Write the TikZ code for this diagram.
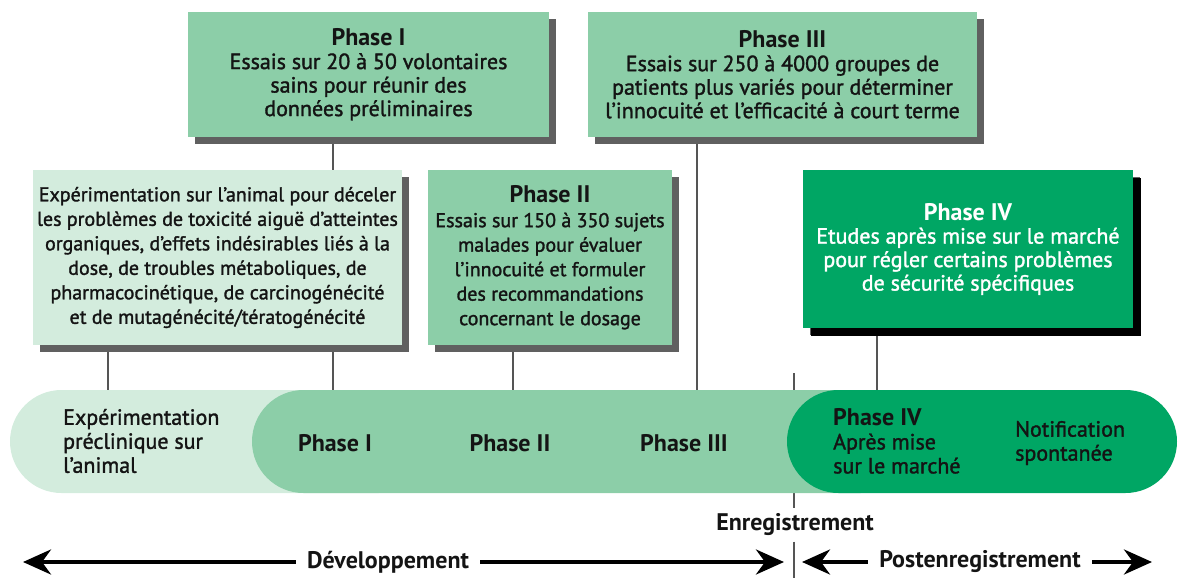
\documentclass[tikz,border=0pt]{standalone}
\usepackage{fontspec}
\setmainfont{PT Sans}
\newfontfamily\semi{PT Sans}[FakeBold=1.5]
\usetikzlibrary{arrows.meta,shadows,backgrounds}
\definecolor{pale}{RGB}{211,236,221}
\definecolor{mid}{RGB}{140,206,168}
\definecolor{deep}{RGB}{0,166,100}
\definecolor{shade}{RGB}{96,96,96}
\definecolor{ink}{RGB}{20,20,20}
\definecolor{wirecol}{RGB}{85,85,85}
\newcommand\hd[1]{{\normalfont\bfseries\fontsize{24}{24}\selectfont #1}}
\tikzset{
  box/.style={fill=#1, inner sep=0pt, align=center, text=ink,
    drop shadow={shadow xshift=7pt, shadow yshift=-7pt, fill=shade, opacity=1}},
  bodybig/.style={font=\semi\fontsize{22}{23.5}\selectfont},
  bodysmall/.style={font=\semi\fontsize{20}{24.5}\selectfont},
  pill/.style={fill=#1, rounded corners=51.5pt, minimum height=103pt, inner sep=0pt},
  wire/.style={draw=wirecol, line width=2pt},
  span/.style={line width=4pt, shorten <=8pt, -{Stealth[length=28pt,width=25pt,inset=9pt]}},
  lab/.style={font=\bfseries\fontsize{24}{24}\selectfont, text=ink},
  txt/.style={font=\semi\fontsize{22}{24}\selectfont, text=ink, inner sep=0pt, anchor=west, align=left}
}
\begin{document}
\begin{tikzpicture}[x=1pt,y=-1pt]
\useasboundingbox (0,0) rectangle (1179,578);
%\draw[step=50,gray,very thin] (0,0) grid (1179,578);
% the time bar
\node[pill=pale, minimum width=420pt] (barpre) at (220,441.5) {};
\node[pill=mid, minimum width=660pt] (barclin) at (582,441.5) {};
\node[pill=deep, minimum width=390pt] (barpost) at (982,441.5) {};
\node[txt] (pretxt) at (63,441) {Expérimentation\\préclinique sur\\l’animal};
\node[lab] (p1) at (335,443) {Phase I};
\node[lab] (p2) at (510,443) {Phase II};
\node[lab] (p3) at (684,443) {Phase III};
\node[txt] (p4) at (833,441) {\hd{Phase IV}\\Après mise\\sur le marché};
\node[txt] (notif) at (1015,443) {Notification\\spontanée};
% the boxes
\node[box=mid, bodybig, minimum width=361pt, minimum height=125pt] (ph1) at (368.5,74.5)
  {\hd{Phase I}\\Essais sur 20 à 50 volontaires\\sains pour réunir des\\données préliminaires};
\node[box=mid, bodybig, minimum width=389pt, minimum height=125pt] (ph3) at (782.5,74.5)
  {\hd{Phase III}\\Essais sur 250 à 4000 groupes de\\patients plus variés pour déterminer\\l’innocuité et l’efficacité à court terme};
\node[box=pale, bodysmall, minimum width=369pt, minimum height=175pt] (prec) at (217.5,257.5)
  {Expérimentation sur l’animal pour déceler\\les problèmes de toxicité aiguë d’atteintes\\organiques, d’effets indésirables liés à la\\dose, de troubles métaboliques, de\\pharmacocinétique, de carcinogénécité\\et de mutagénécité/tératogénécité};
\node[box=mid, bodysmall, minimum width=244pt, minimum height=175pt] (ph2) at (550,257.5)
  {\hd{Phase II}\\Essais sur 150 à 350 sujets\\malades pour évaluer\\l’innocuité et formuler\\des recommandations\\concernant le dosage};
\node[box=deep, bodybig, minimum width=330pt, minimum height=158pt, text=white,
  drop shadow={shadow xshift=8pt, shadow yshift=-8pt, fill=black, opacity=1}] (ph4) at (968,249)
  {\hd{Phase IV}\\Etudes après mise sur le marché\\pour régler certains problèmes\\de sécurité spécifiques};
% links to the bar
\coordinate (k0) at ([xshift=75pt]prec.south west);
\coordinate (k1) at ([xshift=145pt]ph1.south west);
\coordinate (k2) at ([xshift=85pt]ph2.south west);
\coordinate (k3) at ([xshift=109pt]ph3.south west);
\coordinate (k4) at ([xshift=74pt]ph4.south west);
\coordinate (regtop) at (794,373);
\coordinate (regbot) at (794,578);
\node[lab] (enr) at (795,525) {Enregistrement};
\begin{scope}[on background layer]
\draw[wire] (k0) -- (k0 |- barpre.north);
\draw[wire] (k1) -- (k1 |- barpre.north);
\draw[wire] (k2) -- (k2 |- barclin.north);
\draw[wire] (k3) -- (k3 |- barclin.north);
\draw[wire] (k4) -- (k4 |- barpost.north);
\draw[wire] (regtop) -- ([yshift=2pt]regtop |- enr.north);
\end{scope}
\draw[wire] ([yshift=-2pt]regbot |- enr.south) -- (regbot);
% the spans
\node[lab] (dev) at (388,562) {Développement};
\node[lab] (post) at (980,562) {Postenregistrement};
\coordinate (devl) at (23,562);
\coordinate (devr) at (784,562);
\coordinate (postl) at (802,562);
\coordinate (postr) at (1152,562);
\draw[span] (dev.west) -- (devl);
\draw[span] (dev.east) -- (devr);
\draw[span] (post.west) -- (postl);
\draw[span] (post.east) -- (postr);
\end{tikzpicture}
\end{document}
